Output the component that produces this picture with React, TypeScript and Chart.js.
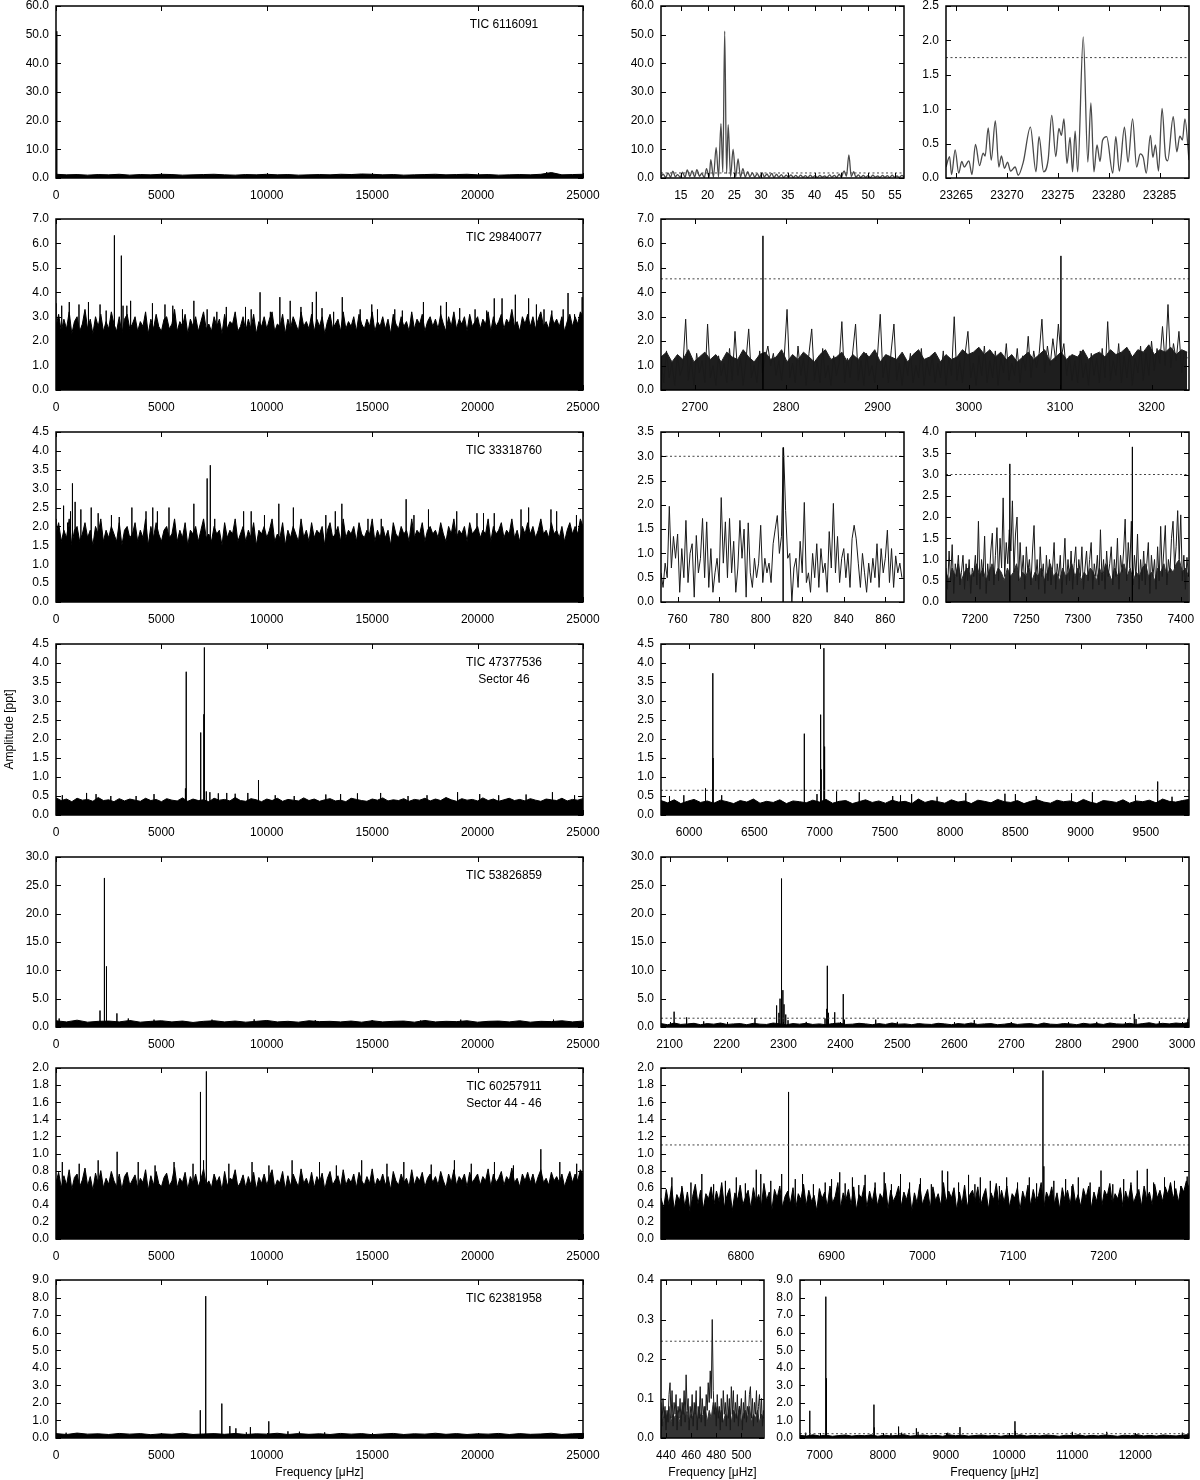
import React, { useEffect, useRef } from "react";
import { Chart, registerables } from "chart.js";
Chart.register(...registerables);

const FONT = '"Liberation Sans", Arial, Helvetica, sans-serif';

// ---------------- tick values ----------------
const fullXTicks = [0, 5000, 10000, 15000, 20000, 25000];
const r1aXTicks = [15, 20, 25, 30, 35, 40, 45, 50, 55];
const r1bXTicks = [23265, 23270, 23275, 23280, 23285];
const r2RXTicks = [2700, 2800, 2900, 3000, 3100, 3200];
const r3aXTicks = [760, 780, 800, 820, 840, 860];
const r3bXTicks = [7200, 7250, 7300, 7350, 7400];
const r4RXTicks = [6000, 6500, 7000, 7500, 8000, 8500, 9000, 9500];
const r5RXTicks = [2100, 2200, 2300, 2400, 2500, 2600, 2700, 2800, 2900, 3000];
const r6RXTicks = [6800, 6900, 7000, 7100, 7200];
const r7aXTicks = [440, 460, 480, 500];
const r7bXTicks = [7000, 8000, 9000, 10000, 11000, 12000];

const y60 = [0, 10, 20, 30, 40, 50, 60];
const y25 = [0, 0.5, 1, 1.5, 2, 2.5];
const y7 = [0, 1, 2, 3, 4, 5, 6, 7];
const y45 = [0, 0.5, 1, 1.5, 2, 2.5, 3, 3.5, 4, 4.5];
const y35 = [0, 0.5, 1, 1.5, 2, 2.5, 3, 3.5];
const y40 = [0, 0.5, 1, 1.5, 2, 2.5, 3, 3.5, 4];
const y30 = [0, 5, 10, 15, 20, 25, 30];
const y20 = [0, 0.2, 0.4, 0.6, 0.8, 1, 1.2, 1.4, 1.6, 1.8, 2];
const y9 = [0, 1, 2, 3, 4, 5, 6, 7, 8, 9];
const y04 = [0, 0.1, 0.2, 0.3, 0.4];

// ---------------- labels ----------------
const targets = ["TIC 6116091", "TIC 29840077", "TIC 33318760", "TIC 47377536", "TIC 53826859", "TIC 60257911", "TIC 62381958"];
const sectors = ["", "", "", "Sector 46", "", "Sector 44 - 46", ""];
const xTitle = "Frequency [μHz]";
const yTitle = "Amplitude [ppt]";

// ---------------- row 1 : TIC 6116091 ----------------
const r1Lband = [1.3,1.1,1.2,1.0,1.2,1.1,1.3,1.0,1.2,1.1,1.3,1.2,1.0,1.1,1.2,1.3,1.1,1.0,1.2,1.1,1.3,1.1,1.2,1.0,1.1,1.2,1.1,1.3,1.2,1.4,1.3,1.1,1.2,1.0,1.1,1.2,1.3,1.1,1.2,1.3,1.1,1.2,1.0,1.1,1.2,1.1,1.3,1.9,1.1,1.2,1.3];
const r1Lspikes: [number, number][] = [[23.2, 51.2], [46.4, 8.1], [23277, 2.05]];
const r1aCurve: [number, number][] = [
  [11.3,0.5],[11.7,1.3],[12.2,0.2],[12.6,1.8],[13.1,0.3],[13.5,2.4],[14.0,0.4],[14.4,1.2],[14.9,0.2],[15.3,2.0],
  [15.8,0.3],[16.2,2.8],[16.7,0.5],[17.1,2.6],[17.6,0.4],[18.0,2.9],[18.5,0.6],[18.9,1.6],[19.4,0.2],[19.8,3.3],
  [20.3,0.3],[20.6,6.4],[21.1,0.3],[21.6,10.7],[22.05,0.4],[22.5,19.0],[22.85,2.0],[23.2,51.2],[23.55,1.5],[23.85,18.6],
  [24.3,0.5],[24.77,10.1],[25.25,0.4],[25.7,6.7],[26.15,0.3],[26.6,3.3],[27.05,0.3],[27.5,2.2],[27.9,0.4],[28.4,1.8],
  [28.8,0.3],[29.3,1.5],[29.7,0.2],[30.2,1.9],[30.6,0.4],[31.1,1.4],[31.5,0.3],[32.0,1.6],[32.4,0.2],[32.9,1.3],
  [33.3,0.3],[33.8,1.2],[34.2,0.2],[34.7,1.0],[35.1,0.3],[35.6,1.1],[36.0,0.2],[36.5,0.9],[36.9,0.2],[37.4,1.0],
  [37.8,0.3],[38.3,0.8],[38.7,0.2],[39.2,1.0],[39.6,0.3],[40.1,0.8],[40.5,0.2],[41.0,0.9],[41.4,0.3],[41.9,0.7],
  [42.3,0.2],[42.8,1.1],[43.2,0.3],[43.7,0.9],[44.1,0.2],[44.6,1.3],[45.0,0.3],[45.5,2.5],[45.95,0.6],[46.4,8.1],
  [46.85,0.5],[47.3,2.2],[47.7,0.3],[48.2,1.1],[48.6,0.2],[49.1,0.9],[49.5,0.3],[50.0,0.8],[50.4,0.2],[50.9,1.0],
  [51.3,0.3],[51.8,0.7],[52.2,0.2],[52.7,0.9],[53.1,0.3],[53.6,0.8],[54.0,0.2],[54.5,1.0],[54.9,0.3],[55.4,0.7],
  [55.8,0.2],[56.3,0.9],[56.7,0.4]
];
const r1bCurve: [number, number][] = [
  [23264.0,0.16],[23264.35,0.31],[23264.55,0.05],[23264.9,0.41],[23265.25,0.07],[23265.55,0.24],[23265.8,0.16],[23266.25,0.25],
  [23266.55,0.05],[23266.9,0.49],[23267.3,0.18],[23267.65,0.36],[23267.85,0.32],[23268.15,0.73],[23268.45,0.26],[23268.85,0.83],
  [23269.2,0.16],[23269.45,0.32],[23269.75,0.14],[23270.05,0.23],[23270.35,0.10],[23270.8,0.16],[23271.1,0.04],[23271.6,0.23],
  [23272.3,0.74],[23272.85,0.09],[23273.15,0.60],[23273.6,0.09],[23274.05,0.27],[23274.4,0.91],[23274.8,0.31],[23275.1,0.72],
  [23275.35,0.62],[23275.6,0.86],[23275.9,0.21],[23276.2,0.59],[23276.45,0.09],[23276.7,0.68],[23276.95,0.09],[23277.5,2.05],
  [23277.95,0.23],[23278.25,1.09],[23278.55,0.09],[23278.85,0.48],[23279.15,0.24],[23279.4,0.55],[23279.8,0.60],[23280.4,0.07],
  [23280.7,0.60],[23281.05,0.10],[23281.55,0.74],[23281.9,0.23],[23282.35,0.86],[23282.75,0.16],[23283.1,0.35],[23283.4,0.30],
  [23283.7,0.07],[23284.1,0.62],[23284.35,0.30],[23284.6,0.48],[23284.9,0.10],[23285.25,1.01],[23285.6,0.30],[23285.8,0.25],
  [23286.35,0.89],[23286.7,0.38],[23287.0,0.61],[23287.25,0.55],[23287.5,0.86],[23287.9,0.26]
];
const r1Threshold = 1.75;

// ---------------- row 2 : TIC 29840077 ----------------
const r2Lband = [
  2.6,3.1,2.4,2.9,2.5,3.2,2.3,2.8,3.0,2.4, 2.7,3.3,2.5,2.9,2.3,3.0,2.6,3.1,2.4,2.8,
  2.5,3.2,2.7,2.4,3.0,2.3,2.9,3.1,2.5,2.7, 3.0,2.4,2.8,2.6,3.2,2.3,2.9,2.5,3.1,2.6,
  2.4,2.9,3.0,2.5,2.7,3.3,2.4,2.8,2.6,3.1, 2.3,2.9,2.6,3.0,2.4,2.8,3.2,2.5,2.7,2.4,
  3.0,2.6,2.9,2.3,3.1,2.5,2.8,2.7,3.2,2.4, 2.6,3.0,2.4,2.9,2.5,3.1,2.3,2.8,2.6,3.0,
  2.5,2.9,3.2,2.4,2.7,2.6,3.1,2.3,2.9,2.5, 3.0,2.7,2.4,3.2,2.6,2.8,2.5,3.1,2.4,2.9,
  2.6,3.0,2.3,2.8,3.1,2.5,2.7,2.9,2.4,3.2, 2.5,2.8,2.6,3.0,2.4,3.1,2.7,2.5,2.9,2.6,
  3.2,2.4,2.8,2.6,3.0,2.5,2.9,2.3,3.1,2.7, 2.5,3.0,2.6,2.8,2.4,3.2,2.5,2.9,2.7,3.1,
  2.4,2.8,3.0,2.6,2.9,2.5,3.1,2.7,2.4,3.0, 2.6,3.2,2.5,2.9,2.7,3.0,2.4,3.1,2.6,2.8,
  3.0,2.5,2.9,2.7,3.2,2.4,3.0,2.6,2.8,3.1, 2.5,2.9,2.7,3.3,2.6,2.8,2.4,3.0,2.7,3.1,
  2.6,3.0,2.5,2.9,3.2,2.6,2.8,2.5,3.1,2.7, 2.9,2.6,3.0,2.4,2.8,3.1,2.6,3.0,2.7,3.2,
  3.0
];
const r2Lspikes: [number, number][] = [
  [0,3.55],[270,3.45],[630,3.6],[1090,3.5],[1540,3.6],[2090,3.5],[2380,3.25],[2770,6.33],[3100,5.5],[3180,3.45],
  [3360,3.45],[3540,3.65],[4575,3.55],[5170,3.5],[5540,3.45],[6000,3.3],[6540,3.65],[7170,3.3],[7630,3.2],[8080,3.4],
  [8990,3.4],[9260,3.3],[9680,4.0],[10170,3.2],[10620,3.8],[11110,3.65],[11620,3.4],[12160,3.6],[12350,4.02],[12620,3.35],
  [13170,3.2],[13580,3.8],[14430,3.3],[14980,3.5],[15250,3.3],[16070,3.3],[16430,3.25],[17430,3.6],[18250,3.45],[18520,3.6],
  [19150,3.35],[19880,3.3],[20430,3.25],[20790,3.75],[21160,3.75],[21790,3.9],[22420,3.75],[22790,3.5],[23150,3.3],[23520,3.25],
  [24060,3.3],[24290,3.97],[24600,3.1],[24960,3.8]
];
const r2Rband = [
  1.35,1.55,1.15,1.45,1.25,1.65,1.15,1.35,1.55,1.25, 1.45,1.15,1.55,1.35,1.25,1.65,1.35,1.15,1.45,1.55,
  1.25,1.35,1.65,1.15,1.45,1.25,1.55,1.35,1.15,1.45, 1.65,1.25,1.35,1.55,1.15,1.45,1.25,1.55,1.35,1.65,
  1.15,1.45,1.35,1.25,1.55,1.15,1.45,1.65,1.25,1.35, 1.55,1.15,1.45,1.25,1.35,1.65,1.45,1.55,1.75,1.45,
  1.65,1.35,1.55,1.25,1.45,1.15,1.35,1.55,1.25,1.45, 1.65,1.15,1.35,1.55,1.25,1.45,1.35,1.65,1.25,1.45,
  1.55,1.35,1.65,1.45,1.55,1.75,1.35,1.65,1.55,1.85, 1.45,1.65,1.55,1.75,1.45,1.65,1.55
];
const r2Rnoise = [
  1.2,0.3,1.6,0.5,1.1,0.2,1.4,0.6,1.0,2.9, 0.4,1.3,0.2,1.5,0.7,1.2,0.3,2.7,0.5,1.0,
  0.2,1.4,0.6,1.1,0.3,1.7,0.4,2.4,0.6,1.3, 0.2,1.2,2.5,0.5,1.0,0.3,1.6,0.7,1.3,1.8,
  1.0,1.5,0.6,1.2,0.4,1.4,3.3,0.5,1.1,0.3, 1.8,0.6,1.3,0.2,1.5,2.5,0.4,1.2,0.3,1.7,
  0.5,1.0,0.2,1.4,0.6,1.1,2.8,0.3,1.3,0.5, 1.6,2.7,0.4,1.2,0.2,1.5,0.6,1.0,0.3,1.4,
  3.1,0.5,1.2,0.3,1.6,2.7,0.4,1.1,0.2,1.3, 0.6,1.5,0.3,1.0,0.5,1.7,0.2,1.2,0.6,1.4,
  0.3,1.1,0.5,1.6,0.2,1.3,0.6,3.0,0.4,1.2, 0.3,1.5,2.4,0.5,1.1,0.2,1.4,0.6,1.8,0.3,
  1.2,0.5,1.6,0.2,1.3,0.7,1.9,0.4,1.1,0.6, 1.7,0.3,1.4,0.8,2.2,0.5,1.6,0.9,1.5,2.9,
  0.7,1.8,1.0,2.1,1.2,2.7,1.3,1.9,0.6,1.4, 0.4,1.2,0.3,1.6,0.5,1.1,0.2,1.5,0.6,1.3,
  0.3,1.7,0.5,2.8,0.4,1.2,0.6,1.9,0.3,1.4, 0.5,1.6,0.2,1.3,0.7,1.8,0.4,1.5,0.6,2.0,
  0.8,1.7,1.1,2.6,1.0,3.5,0.9,1.9,1.2,2.4, 0.7,1.6,1.3
];
const r2Rspikes: [number, number][] = [[2774.6, 6.31], [3100.8, 5.49]];
const r2Threshold = 4.55;

// ---------------- row 3 : TIC 33318760 ----------------
const r3Lband = [
  1.8,2.1,1.6,1.9,1.7,2.2,1.5,1.9,2.0,1.6, 1.8,2.1,1.7,1.9,1.5,2.0,1.8,2.2,1.6,1.9,
  1.7,2.0,1.8,1.6,2.1,1.5,1.9,2.0,1.7,1.8, 2.1,1.6,1.9,1.7,2.2,1.5,2.0,1.7,2.1,1.8,
  1.6,1.9,2.0,1.7,1.8,2.2,1.6,1.9,1.7,2.1, 1.5,1.9,1.8,2.0,1.6,1.9,2.2,1.7,1.8,1.6,
  2.0,1.8,1.9,1.5,2.1,1.7,1.9,1.8,2.2,1.6, 1.8,2.0,1.6,1.9,1.7,2.1,1.5,1.9,1.8,2.0,
  1.7,1.9,2.2,1.6,1.8,1.7,2.1,1.5,1.9,1.7, 2.0,1.8,1.6,2.2,1.7,1.9,1.6,2.1,1.7,1.9,
  1.8,2.0,1.5,1.9,2.1,1.7,1.8,2.0,1.6,2.2, 1.7,1.9,1.8,2.0,1.6,2.1,1.8,1.7,1.9,1.8,
  2.2,1.6,1.9,1.7,2.0,1.7,1.9,1.5,2.1,1.8, 1.7,2.0,1.8,1.9,1.6,2.2,1.7,1.9,1.8,2.1,
  1.6,1.9,2.0,1.8,1.9,1.7,2.1,1.8,1.6,2.0, 1.8,2.2,1.7,1.9,1.8,2.0,1.6,2.1,1.8,1.9,
  2.0,1.7,1.9,1.8,2.2,1.6,2.0,1.8,1.9,2.1, 1.7,1.9,1.8,2.2,1.7,1.9,1.6,2.0,1.8,2.1,
  1.8,2.0,1.7,1.9,2.2,1.8,1.9,1.7,2.1,1.8, 1.9,1.7,2.0,1.6,1.9,2.1,1.8,2.0,1.8,2.2,
  2.0
];
const r3Lspikes: [number, number][] = [
  [0,2.2],[360,2.55],[545,2.1],[690,2.4],[780,3.14],[907,2.65],[1180,2.45],[1670,2.5],[2000,2.35],[2630,2.3],
  [3000,2.25],[3600,2.5],[4270,2.4],[4590,2.5],[4810,2.4],[5360,2.5],[6540,2.6],[7170,3.27],[7320,3.62],[7530,2.2],
  [8900,2.4],[9260,2.4],[9890,2.3],[10570,2.6],[11260,2.5],[12800,2.3],[13250,2.4],[13560,2.6],[14800,2.2],[15430,2.2],
  [16610,2.72],[16980,2.3],[17670,2.45],[19010,2.4],[19970,2.35],[20280,2.35],[20790,2.35],[22060,2.45],[22420,2.5],[23480,2.45],
  [23750,2.4],[24690,2.3]
];
const r3aNoise = [
  0.6,0.3,0.8,0.5,1.97,0.7,1.35,0.9,1.4,0.2, 1.1,0.5,1.68,0.4,1.0,1.2,0.1,1.37,0.6,0.9,
  1.72,0.5,1.65,0.3,1.1,0.2,0.6,0.9,0.4,2.15, 0.8,1.65,0.5,1.72,0.6,1.25,0.2,0.7,1.68,0.9,
  1.5,0.1,1.63,0.6,0.3,0.9,0.5,0.8,1.58,0.4, 0.9,0.6,0.8,0.4,1.2,1.5,1.78,1.0,1.35,3.18,
  1.88,0.9,1.0,0.0,0.7,0.9,0.3,1.25,0.6,2.05, 0.4,0.6,0.2,1.0,0.5,1.2,0.3,1.1,0.6,0.8,
  0.2,1.45,0.7,2.03,0.6,1.35,0.4,0.9,1.1,0.5, 1.0,0.3,1.3,1.58,1.3,0.8,0.3,1.0,0.6,0.2,
  0.8,0.4,0.9,0.5,1.2,0.3,1.1,0.6,0.9,1.48, 0.4,1.1,0.3,0.95,0.6,0.8,0.5
];
const r3bBand = [
  0.7,0.5,0.8,0.6,0.9,0.5,0.7,0.8,0.6,0.7, 0.9,0.6,0.8,0.5,0.7,0.9,0.6,0.8,0.7,0.5,
  0.8,0.6,0.7,0.9,0.5,0.7,0.6,0.8,0.5,0.7, 0.6,0.8,0.5,0.7,0.9,0.6,0.7,0.5,0.8,0.6,
  0.7,0.9,0.6,0.8,0.5,0.7,0.6,0.8,0.7,0.5, 0.8,0.6,0.9,0.7,0.5,0.8,0.6,0.7,0.9,0.6,
  0.8,0.5,0.7,0.6,0.8,0.9,0.6,0.7,0.5,0.8, 0.7,0.9,0.6,0.8,0.7,0.9,1.0,0.7,0.8,0.6
];
const r3bNoise = [
  0.8,0.3,1.2,0.5,1.35,0.2,0.9,0.6,1.1,0.4, 0.7,1.1,0.3,0.9,0.5,1.0,0.2,0.8,0.6,1.1,
  0.4,1.9,0.3,1.0,0.6,1.55,0.2,0.9,0.5,1.2, 1.62,0.4,1.1,1.75,0.5,1.5,0.8,2.45,0.6,1.4,
  0.9,1.7,1.2,2.38,0.7,1.6,2.0,0.5,1.4,0.6, 1.1,0.3,1.3,0.7,1.0,0.4,1.2,1.8,0.5,1.0,
  0.3,1.3,0.6,0.9,0.2,1.1,0.5,1.0,0.4,0.8, 1.4,0.3,0.9,0.6,1.1,0.2,0.8,1.5,0.4,1.0,
  0.5,1.2,0.3,0.9,1.3,0.4,1.0,0.6,1.3,0.3, 0.8,1.2,0.5,1.0,1.4,0.3,0.9,0.6,1.1,0.4,
  1.7,0.5,1.0,0.3,1.2,0.6,0.9,1.3,0.4,1.0, 0.6,1.5,0.3,1.1,0.7,1.2,1.95,0.5,1.4,0.8,
  1.9,0.4,1.1,0.6,1.6,0.3,1.0,0.5,1.2,0.4, 0.9,1.4,0.2,1.1,0.6,1.0,0.3,1.3,0.5,1.78,
  0.6,1.2,1.8,0.4,1.0,0.7,1.5,1.9,0.8,1.3, 2.15,1.0,2.05,0.5,1.1,0.3,1.05,0.6
];
const r3aSpikes: [number, number][] = [[810.8, 3.18]];
const r3bSpikes: [number, number][] = [[7234, 3.25], [7353, 3.65]];
const r3Threshold = 3.0;

// ---------------- row 4 : TIC 47377536 ----------------
const r4Lband = [0.45,0.38,0.42,0.35,0.44,0.39,0.41,0.36,0.46,0.38,0.40,0.35,0.43,0.37,0.42,0.39,0.36,0.44,0.38,0.41,0.35,0.43,0.39,0.37,0.45,0.36,0.42,0.38,0.40,0.35,0.44,0.39,0.41,0.37,0.46,0.38,0.36,0.43,0.40,0.35,0.42,0.38,0.44,0.36,0.41,0.39,0.37,0.45,0.38,0.42,0.36,0.40,0.43,0.37,0.39,0.35,0.44,0.41,0.38,0.36,0.42,0.39,0.45,0.37,0.40,0.38,0.43,0.36,0.41,0.39,0.44,0.37,0.42,0.38,0.46,0.40,0.36,0.43,0.39,0.41,0.37,0.45,0.38,0.42,0.36,0.40,0.44,0.38,0.41,0.37,0.43,0.39,0.36,0.42,0.40,0.38,0.44,0.37,0.41,0.39,0.43];
const r4Lspikes: [number, number][] = [
  [6175,3.77],[6180,0.75],[6865,2.17],[7010,2.65],[7015,1.2],[7035,4.41],[7040,1.8],[9600,0.92],[9610,0.75],
  [300,0.52],[1450,0.58],[1900,0.55],[2600,0.5],[3800,0.5],[4650,0.55],[6140,0.7],[7130,0.62],[7300,0.6],[7700,0.57],
  [8100,0.58],[8500,0.56],[9100,0.58],[10400,0.52],[11300,0.5],[12800,0.54],[13500,0.55],[14300,0.57],[15400,0.58],
  [16700,0.5],[17600,0.52],[19050,0.6],[20100,0.55],[21000,0.52],[22300,0.54],[23550,0.6],[24600,0.52]
];
const r4Rband = [0.38,0.32,0.40,0.30,0.36,0.41,0.33,0.37,0.31,0.39,0.35,0.30,0.38,0.34,0.42,0.31,0.36,0.33,0.40,0.30,0.37,0.35,0.32,0.39,0.34,0.41,0.31,0.36,0.38,0.30,0.35,0.40,0.33,0.37,0.31,0.39,0.34,0.36,0.30,0.42,0.33,0.38,0.35,0.31,0.40,0.34,0.37,0.30,0.39,0.36,0.32,0.41,0.35,0.33,0.38,0.30,0.36,0.40,0.34,0.31,0.39,0.35,0.37,0.32,0.41,0.34,0.30,0.38,0.36,0.33,0.40,0.31,0.37,0.35,0.39,0.32,0.42,0.36,0.34,0.38,0.41];
const r4Rspikes: [number, number][] = [
  [5850,0.5],[5960,0.52],[6126,0.7],[6182,3.73],[6184,1.5],[6250,0.52],[6883,2.14],[6980,0.55],[7008,2.64],[7012,1.2],
  [7033,4.39],[7036,1.8],[7040,0.9],[7130,0.62],[7304,0.6],[7560,0.5],[7620,0.52],[7705,0.55],[7900,0.48],[8120,0.58],
  [8420,0.56],[8500,0.55],[8660,0.5],[8930,0.57],[9090,0.6],[9420,0.52],[9590,0.88],[9700,0.48]
];
const r4Threshold = 0.65;

// ---------------- row 5 : TIC 53826859 ----------------
const r5Lband = [1.1,0.9,1.2,0.85,1.0,1.05,0.9,1.15,0.85,1.0,1.1,0.9,1.05,0.8,1.0,1.1,0.9,1.05,0.85,1.0,1.15,0.9,1.0,0.85,1.1,0.95,1.0,0.9,1.05,0.85,1.1,0.9,1.0,1.05,0.85,1.15,0.9,1.0,0.95,1.1,0.85,1.0,1.05,0.9,1.1,0.85,1.0,0.95,1.1,0.9,1.05];
const r5Lspikes: [number, number][] = [
  [150,1.5],[2088,2.9],[2297,26.3],[2378,10.7],[2405,5.8],[2890,2.4],[3430,1.5],[4650,1.3],[7400,1.3],[9400,1.35],
  [12300,1.2],[15000,1.2],[17300,1.15],[19200,1.3],[23600,1.3]
];
const r5Rband = [0.6,0.4,0.7,0.45,0.55,0.65,0.4,0.6,0.5,0.7,0.45,0.55,0.6,0.4,0.65,0.5,0.45,0.7,0.55,0.4,0.6,0.5,0.65,0.45,0.55,0.4,0.6,0.7,0.45,0.5,0.65,0.55,0.4,0.6,0.45,0.7,0.5,0.55,0.4,0.6,0.5,0.45,0.65,0.55,0.4,0.6,0.5,0.7,0.45,0.55,0.6,0.4,0.5,0.65,0.45,0.55,0.6,0.4,0.7,0.5,0.45,0.6,0.55,0.4,0.65,0.5,0.6,0.45,0.7,0.55,0.5,0.65,0.45,0.6,0.75,0.5,0.65,0.55,0.7,0.6,0.8];
const r5Rspikes: [number, number][] = [
  [2108,2.7],[2130,1.7],[2160,1.0],[2250,1.6],[2288,3.8],[2292,2.5],[2294,5.0],[2296,8.0],[2297,26.2],[2299,6.5],
  [2301,4.0],[2304,2.2],[2308,1.2],[2340,0.9],[2373,1.5],[2376,3.2],[2377,10.8],[2379,2.5],[2390,2.6],[2405,5.8],
  [2407,1.3],[2462,1.3],[2500,0.9],[2635,1.2],[2700,0.8],[2850,0.9],[2916,2.3],[2919,1.4],[2960,1.0],[3010,1.4]
];
const r5Threshold = 1.55;

// ---------------- row 6 : TIC 60257911 ----------------
const r6Lband = [
  0.66,0.78,0.60,0.74,0.63,0.81,0.58,0.72,0.76,0.61, 0.69,0.83,0.62,0.73,0.57,0.77,0.65,0.80,0.60,0.71,
  0.64,0.79,0.68,0.61,0.76,0.58,0.73,0.78,0.63,0.69, 0.75,0.60,0.71,0.66,0.81,0.57,0.74,0.63,0.79,0.65,
  0.61,0.72,0.77,0.62,0.68,0.84,0.60,0.71,0.66,0.78, 0.58,0.73,0.65,0.76,0.61,0.70,0.82,0.63,0.68,0.60,
  0.76,0.66,0.73,0.57,0.79,0.62,0.71,0.69,0.81,0.61, 0.66,0.75,0.60,0.73,0.63,0.78,0.58,0.72,0.65,0.76,
  0.63,0.73,0.81,0.60,0.69,0.66,0.79,0.58,0.74,0.62, 0.76,0.68,0.61,0.82,0.65,0.71,0.62,0.78,0.60,0.73,
  0.66,0.77,0.58,0.71,0.79,0.63,0.69,0.74,0.61,0.81, 0.63,0.71,0.66,0.76,0.60,0.78,0.68,0.63,0.73,0.65,
  0.82,0.61,0.71,0.66,0.76,0.63,0.73,0.58,0.79,0.68, 0.63,0.76,0.66,0.71,0.61,0.81,0.63,0.73,0.68,0.78,
  0.61,0.71,0.76,0.66,0.73,0.63,0.79,0.68,0.60,0.76, 0.66,0.81,0.63,0.73,0.68,0.76,0.61,0.78,0.66,0.71,
  0.76,0.63,0.73,0.68,0.82,0.61,0.76,0.66,0.71,0.79, 0.63,0.73,0.68,0.83,0.66,0.71,0.61,0.76,0.68,0.78,
  0.66,0.76,0.63,0.73,0.81,0.66,0.71,0.63,0.78,0.68, 0.73,0.66,0.76,0.61,0.71,0.79,0.66,0.76,0.68,0.81,
  0.76
];
const r6Lspikes: [number, number][] = [
  [300,0.9],[1100,0.88],[2000,0.92],[2900,1.02],[3900,0.9],[4700,0.86],[5600,0.9],[6500,0.88],[6850,1.72],[6855,0.85],
  [7000,0.92],[7130,1.96],[7135,0.9],[8200,0.88],[9300,0.9],[10100,0.86],[11200,0.92],[12500,0.9],[13300,0.86],[14500,0.92],
  [15700,0.88],[16500,0.9],[17800,0.87],[18900,0.92],[19700,0.88],[20800,0.9],[21700,0.86],[23000,1.05],[23900,0.9],[24700,0.88]
];
const r6Rband = [
  0.48,0.36,0.58,0.40,0.62,0.34,0.52,0.45,0.60,0.38, 0.55,0.32,0.50,0.64,0.41,0.57,0.35,0.53,0.47,0.61,
  0.39,0.56,0.44,0.66,0.37,0.51,0.59,0.33,0.54,0.46, 0.63,0.40,0.49,0.57,0.36,0.60,0.43,0.52,0.38,0.65,
  0.45,0.55,0.34,0.58,0.48,0.62,0.37,0.50,0.56,0.41, 0.60,0.35,0.53,0.46,0.64,0.39,0.57,0.44,0.51,0.33,
  0.59,0.47,0.55,0.38,0.62,0.42,0.50,0.66,0.36,0.54, 0.45,0.58,0.40,0.61,0.34,0.52,0.48,0.63,0.37,0.56,
  0.43,0.60,0.39,0.53,0.47,0.65,0.35,0.57,0.44,0.51, 0.62,0.38,0.55,0.46,0.59,0.33,0.54,0.42,0.64,0.40,
  0.50,0.58,0.36,0.61,0.45,0.53,0.39,0.66,0.43,0.56, 0.48,0.60,0.34,0.55,0.41,0.63,0.37,0.52,0.57,0.44,
  0.61,0.38,0.50,0.59,0.35,0.54,0.46,0.65,0.40,0.57, 0.43,0.62,0.37,0.53,0.48,0.60,0.34,0.56,0.45,0.63,
  0.39,0.58,0.44,0.51,0.66,0.36,0.55,0.47,0.61,0.41, 0.54,0.35,0.60,0.46,0.57,0.40,0.64,0.43,0.52,0.38,
  0.59,0.48,0.62,0.36,0.55,0.44,0.61,0.39,0.57,0.50, 0.65,0.41,0.53,0.47,0.60,0.37,0.56,0.45,0.63,0.42,
  0.51,0.58,0.38,0.62,0.46,0.55,0.40,0.64,0.48,0.57, 0.44,0.61,0.52,0.66,0.47,0.59,0.43,0.62,0.55,0.68,
  0.60
];
const r6Rspikes: [number, number][] = [
  [6724,0.72],[6735,0.62],[6745,0.66],[6757,0.76],[6770,0.64],[6783,0.68],[6795,0.72],[6805,0.65],[6817,0.81],[6822,0.76],
  [6833,0.68],[6845,0.76],[6852,1.72],[6853,0.84],[6860,0.7],[6868,0.76],[6880,0.64],[6893,0.66],[6900,0.7],[6909,0.78],
  [6915,0.65],[6923,0.72],[6930,0.63],[6937,0.75],[6948,0.66],[6958,0.78],[6966,0.64],[6976,0.76],[6986,0.66],[6998,0.71],
  [7010,0.64],[7022,0.8],[7028,0.79],[7040,0.66],[7051,0.75],[7058,0.64],[7064,0.72],[7075,0.68],[7085,0.62],[7093,0.72],
  [7105,0.66],[7118,0.72],[7126,0.65],[7133,1.97],[7134,0.85],[7145,0.68],[7158,0.7],[7165,0.62],[7172,0.72],[7185,0.66],
  [7197,0.8],[7210,0.64],[7222,0.7],[7230,0.66],[7237,0.8],[7248,0.82],[7255,0.66],[7267,0.72],[7278,0.68],[7285,0.62],[7292,0.73]
];
const r6Threshold = 1.1;

// ---------------- row 7 : TIC 62381958 ----------------
const r7Lband = [0.25,0.2,0.28,0.22,0.24,0.2,0.26,0.22,0.25,0.19,0.24,0.21,0.27,0.2,0.23,0.25,0.21,0.26,0.2,0.24,0.22,0.27,0.2,0.25,0.21,0.24,0.2,0.26,0.22,0.25,0.19,0.23,0.26,0.2,0.24,0.22,0.27,0.21,0.25,0.2,0.24,0.22,0.26,0.2,0.25,0.21,0.23,0.27,0.2,0.24,0.26];
const r7Lspikes: [number, number][] = [
  [480,0.3],[6845,1.58],[7099,8.08],[7105,3.4],[7861,1.96],[7870,0.6],[8243,0.68],[8250,0.5],[8533,0.55],[9030,0.32],
  [9223,0.62],[10094,0.95],[11002,0.38],[11547,0.36],[12000,0.22],[12745,0.32]
];
const r7aBand = [
  0.06,0.04,0.07,0.05,0.08,0.04,0.06,0.05,0.07,0.04, 0.06,0.08,0.05,0.07,0.04,0.06,0.05,0.08,0.04,0.07,
  0.05,0.06,0.08,0.04,0.07,0.05,0.09,0.06,0.08,0.05, 0.07,0.04,0.06,0.05,0.08,0.04,0.07,0.06,0.05,0.08,
  0.04,0.06,0.07,0.05,0.08,0.04,0.06,0.05,0.07,0.04, 0.06,0.05
];
const r7aNoise = [
  0.09,0.03,0.10,0.05,0.08,0.02,0.07,0.04,0.11,0.14, 0.05,0.12,0.03,0.09,0.06,0.11,0.02,0.08,0.05,0.10,
  0.03,0.09,0.06,0.12,0.04,0.16,0.07,0.10,0.02,0.08, 0.05,0.11,0.03,0.09,0.06,0.12,0.02,0.08,0.05,0.13,
  0.04,0.10,0.06,0.08,0.03,0.11,0.07,0.14,0.09,0.17, 0.10,0.30,0.12,0.06,0.09,0.03,0.11,0.05,0.08,0.02,
  0.10,0.04,0.12,0.06,0.09,0.03,0.11,0.05,0.10,0.02, 0.13,0.06,0.12,0.04,0.09,0.05,0.11,0.03,0.08,0.06,
  0.10,0.02,0.09,0.05,0.12,0.04,0.08,0.06,0.11,0.13, 0.05,0.10,0.03,0.09,0.06,0.12,0.04,0.08,0.11,0.05,
  0.10,0.03,0.07
];
const r7bBand = [0.15,0.11,0.18,0.12,0.16,0.1,0.14,0.17,0.11,0.15,0.13,0.18,0.1,0.16,0.12,0.15,0.19,0.11,0.14,0.17,0.12,0.15,0.1,0.18,0.13,0.16,0.11,0.14,0.17,0.12,0.15,0.1,0.16,0.13,0.18,0.11,0.15,0.12,0.17,0.14,0.1,0.16,0.13,0.18,0.11,0.15,0.12,0.17,0.14,0.1,0.16,0.13,0.19,0.12,0.15,0.11,0.17,0.14,0.12,0.16,0.2];
const r7bSpikes: [number, number][] = [
  [6780,0.3],[6845,1.55],[7099,8.05],[7105,3.4],[7110,0.6],[7861,1.9],[7866,0.6],[8130,0.25],[8243,0.65],[8256,0.5],
  [8300,0.3],[8533,0.55],[8560,0.35],[9030,0.3],[9223,0.62],[10094,0.95],[10100,0.4],[11002,0.35],[11547,0.35],[12000,0.22],[12745,0.3]
];
const r7Threshold = 0.245;

// ---------------- layout (plot areas) ----------------
const ROW_TOP = [6, 219, 432, 644, 857, 1068, 1280];
const ROW_H = [172, 171, 170, 171, 170, 171, 158];

type Pt = { x: number; y: number };
interface Spec {
  plot: [number, number, number, number];
  yw?: number; rightPad: number; bottomPad: number;
  x: [number, number]; xTicks: number[];
  y: [number, number]; yTicks: number[];
  band?: { range: [number, number]; values: number[]; color?: string };
  noise?: { range: [number, number]; values: number[]; color?: string };
  curve?: [number, number][];
  spikes?: [number, number][];
  threshold?: number;
  text?: string[];
  xTitle?: string; yTitle?: string;
}

const even = (range: [number, number], values: number[]): Pt[] =>
  values.map((v, i) => ({ x: range[0] + ((range[1] - range[0]) * i) / (values.length - 1), y: v }));

const L = (r: number): [number, number, number, number] => [56, ROW_TOP[r], 527, ROW_H[r]];
const R = (r: number): [number, number, number, number] => [661, ROW_TOP[r], 528, ROW_H[r]];
const RA = (r: number): [number, number, number, number] => [661, ROW_TOP[r], 243, ROW_H[r]];
const RB = (r: number): [number, number, number, number] => [946, ROW_TOP[r], 243, ROW_H[r]];
const txt = (r: number) => (sectors[r] ? [targets[r], sectors[r]] : [targets[r]]);
const FULL: [number, number] = [0, 25000];

const PANELS: Spec[] = [
  // row 1
  { plot: L(0), rightPad: 24, bottomPad: 30, x: FULL, xTicks: fullXTicks, y: [0, 60], yTicks: y60,
    band: { range: FULL, values: r1Lband }, spikes: r1Lspikes, text: txt(0) },
  { plot: RA(0), rightPad: 20, bottomPad: 30, x: [11.3, 56.7], xTicks: r1aXTicks, y: [0, 60], yTicks: y60,
    curve: r1aCurve, threshold: r1Threshold },
  { plot: RB(0), rightPad: 10, bottomPad: 30, x: [23264, 23287.9], xTicks: r1bXTicks, y: [0, 2.5], yTicks: y25,
    curve: r1bCurve, threshold: r1Threshold },
  // row 2
  { plot: L(1), rightPad: 24, bottomPad: 30, x: FULL, xTicks: fullXTicks, y: [0, 7], yTicks: y7,
    band: { range: FULL, values: r2Lband }, spikes: r2Lspikes, text: txt(1) },
  { plot: R(1), rightPad: 10, bottomPad: 30, x: [2663, 3241], xTicks: r2RXTicks, y: [0, 7], yTicks: y7,
    band: { range: [2663, 3239], values: r2Rband, color: "#1e1e1e" },
    noise: { range: [2663, 3239], values: r2Rnoise }, spikes: r2Rspikes, threshold: r2Threshold },
  // row 3
  { plot: L(2), rightPad: 24, bottomPad: 30, x: FULL, xTicks: fullXTicks, y: [0, 4.5], yTicks: y45,
    band: { range: FULL, values: r3Lband }, spikes: r3Lspikes, text: txt(2) },
  { plot: RA(2), rightPad: 20, bottomPad: 30, x: [752, 869], xTicks: r3aXTicks, y: [0, 3.5], yTicks: y35,
    noise: { range: [752, 868], values: r3aNoise }, spikes: r3aSpikes, threshold: r3Threshold },
  { plot: RB(2), rightPad: 10, bottomPad: 30, x: [7172, 7408], xTicks: r3bXTicks, y: [0, 4], yTicks: y40,
    band: { range: [7172, 7407.5], values: r3bBand, color: "#2e2e2e" },
    noise: { range: [7172, 7407.5], values: r3bNoise }, spikes: r3bSpikes, threshold: r3Threshold },
  // row 4
  { plot: L(3), yw: 56, rightPad: 24, bottomPad: 30, x: FULL, xTicks: fullXTicks, y: [0, 4.5], yTicks: y45,
    band: { range: FULL, values: r4Lband }, spikes: r4Lspikes, text: txt(3), yTitle },
  { plot: R(3), rightPad: 10, bottomPad: 30, x: [5785, 9830], xTicks: r4RXTicks, y: [0, 4.5], yTicks: y45,
    band: { range: [5785, 9830], values: r4Rband }, spikes: r4Rspikes, threshold: r4Threshold },
  // row 5
  { plot: L(4), rightPad: 24, bottomPad: 30, x: FULL, xTicks: fullXTicks, y: [0, 30], yTicks: y30,
    band: { range: FULL, values: r5Lband }, spikes: r5Lspikes, text: txt(4) },
  { plot: R(4), rightPad: 10, bottomPad: 30, x: [2085, 3012], xTicks: r5RXTicks, y: [0, 30], yTicks: y30,
    band: { range: [2085, 3012], values: r5Rband }, spikes: r5Rspikes, threshold: r5Threshold },
  // row 6
  { plot: L(5), rightPad: 24, bottomPad: 30, x: FULL, xTicks: fullXTicks, y: [0, 2], yTicks: y20,
    band: { range: FULL, values: r6Lband }, spikes: r6Lspikes, text: txt(5) },
  { plot: R(5), rightPad: 10, bottomPad: 30, x: [6712, 7294], xTicks: r6RXTicks, y: [0, 2], yTicks: y20,
    band: { range: [6712, 7294], values: r6Rband }, spikes: r6Rspikes, threshold: r6Threshold },
  // row 7
  { plot: L(6), rightPad: 24, bottomPad: 42, x: FULL, xTicks: fullXTicks, y: [0, 9], yTicks: y9,
    band: { range: FULL, values: r7Lband }, spikes: r7Lspikes, text: txt(6), xTitle },
  { plot: [661, ROW_TOP[6], 103, ROW_H[6]], rightPad: 16, bottomPad: 42, x: [436, 518], xTicks: r7aXTicks, y: [0, 0.4], yTicks: y04,
    band: { range: [436, 517.6], values: r7aBand, color: "#333" },
    noise: { range: [436, 517.6], values: r7aNoise }, threshold: r7Threshold, xTitle },
  { plot: [800, ROW_TOP[6], 389, ROW_H[6]], rightPad: 10, bottomPad: 42, x: [6690, 12850], xTicks: r7bXTicks, y: [0, 9], yTicks: y9,
    band: { range: [6690, 12850], values: r7bBand }, spikes: r7bSpikes, threshold: r7Threshold, xTitle },
];

function Panel({ spec }: { spec: Spec }) {
  const ref = useRef<HTMLCanvasElement | null>(null);
  const yw = spec.yw ?? 52;
  const [pl, pt, pw, ph] = spec.plot;
  const TOP = 8;
  const W = yw + pw + spec.rightPad;
  const H = TOP + ph + spec.bottomPad;

  useEffect(() => {
    const datasets: any[] = [];
    if (spec.band) {
      const c = spec.band.color || "#000";
      datasets.push({ data: even(spec.band.range, spec.band.values), borderColor: c, backgroundColor: c,
        borderWidth: 1, fill: "origin", pointRadius: 0, order: 5 });
    }
    if (spec.noise) {
      datasets.push({ data: even(spec.noise.range, spec.noise.values), borderColor: spec.noise.color || "#1a1a1a",
        borderWidth: 1, fill: false, pointRadius: 0, order: 4 });
    }
    if (spec.curve) {
      datasets.push({ data: spec.curve.map(([x, y]) => ({ x, y })), borderColor: "#4a4a4a", borderWidth: 1.3,
        fill: false, pointRadius: 0, cubicInterpolationMode: "monotone", order: 4 });
    }
    if (spec.spikes) {
      const pts: Pt[] = [];
      spec.spikes.forEach(([x, y]) => { pts.push({ x, y: 0 }, { x, y }, { x, y: 0 }); });
      datasets.push({ data: pts, borderColor: "#000", borderWidth: 1, fill: false, pointRadius: 0, order: 3 });
    }
    if (spec.threshold !== undefined) {
      datasets.push({ data: [{ x: spec.x[0], y: spec.threshold }, { x: spec.x[1], y: spec.threshold }],
        borderColor: "#444", borderWidth: 1, borderDash: [2, 2.5], fill: false, pointRadius: 0, order: 1 });
    }

    const font = { family: FONT, size: 12 };
    const textLines = spec.text || [];
    const frame = {
      id: "frameTicks",
      afterDraw(chart: any) {
        const { ctx, chartArea: a } = chart;
        const xs = chart.scales.x, ys = chart.scales.y;
        ctx.save();
        ctx.strokeStyle = "#000";
        ctx.lineWidth = 1;
        ctx.beginPath();
        xs.ticks.forEach((t: any) => {
          const p = Math.round(xs.getPixelForValue(t.value)) + 0.5;
          ctx.moveTo(p, a.bottom); ctx.lineTo(p, a.bottom - 5);
          ctx.moveTo(p, a.top); ctx.lineTo(p, a.top + 5);
        });
        ys.ticks.forEach((t: any) => {
          const p = Math.round(ys.getPixelForValue(t.value)) + 0.5;
          ctx.moveTo(a.left, p); ctx.lineTo(a.left + 5, p);
          ctx.moveTo(a.right, p); ctx.lineTo(a.right - 5, p);
        });
        ctx.stroke();
        ctx.lineWidth = 1.5;
        ctx.strokeRect(a.left, a.top, a.right - a.left, a.bottom - a.top);
        ctx.fillStyle = "#000";
        ctx.font = `12px ${FONT}`;
        ctx.textAlign = "center";
        ctx.textBaseline = "middle";
        textLines.forEach((s, i) => ctx.fillText(s, a.right - 79, a.top + 19 + i * 17));
        ctx.restore();
      },
    };

    const xTickSet = spec.xTicks;
    const yTickSet = spec.yTicks;
    const chart = new Chart(ref.current as HTMLCanvasElement, {
      type: "line",
      data: { datasets },
      options: {
        responsive: false,
        animation: false,
        events: [],
        layout: { padding: { left: 0, top: TOP, right: spec.rightPad, bottom: 0 } },
        plugins: { legend: { display: false }, tooltip: { enabled: false } },
        scales: {
          x: {
            type: "linear", min: spec.x[0], max: spec.x[1],
            grid: { display: false, drawTicks: false }, border: { display: false },
            afterBuildTicks: (s: any) => { s.ticks = xTickSet.map((v) => ({ value: v })); },
            afterFit: (s: any) => { s.height = spec.bottomPad; s.paddingLeft = 0; s.paddingRight = 0; },
            ticks: { autoSkip: false, maxRotation: 0, minRotation: 0, padding: 10, color: "#000", font,
              callback: (v: any) => String(v) },
            title: spec.xTitle ? { display: true, text: spec.xTitle, color: "#000", font, padding: { top: 0, bottom: 0 } } : { display: false },
          } as any,
          y: {
            type: "linear", min: spec.y[0], max: spec.y[1],
            grid: { display: false, drawTicks: false }, border: { display: false },
            afterBuildTicks: (s: any) => { s.ticks = yTickSet.map((v) => ({ value: v })); },
            afterFit: (s: any) => { s.width = yw; s.paddingTop = 0; s.paddingBottom = 0; },
            ticks: { autoSkip: false, padding: 7, color: "#000", font, callback: (v: any) => Number(v).toFixed(1) },
            title: spec.yTitle ? { display: true, text: spec.yTitle, color: "#000", font, padding: { top: 2, bottom: 0 } } : { display: false },
          } as any,
        },
      } as any,
      plugins: [frame as any],
    });
    return () => chart.destroy();
  }, []);

  return (
    <canvas ref={ref} width={W} height={H}
      style={{ position: "absolute", left: pl - yw, top: pt - TOP, width: W, height: H }} />
  );
}

export default function App() {
  return (
    <div style={{ position: "absolute", left: 0, top: 0, width: 1200, height: 1480, background: "#fff", overflow: "hidden" }}>
      {PANELS.map((p, i) => <Panel key={i} spec={p} />)}
    </div>
  );
}
